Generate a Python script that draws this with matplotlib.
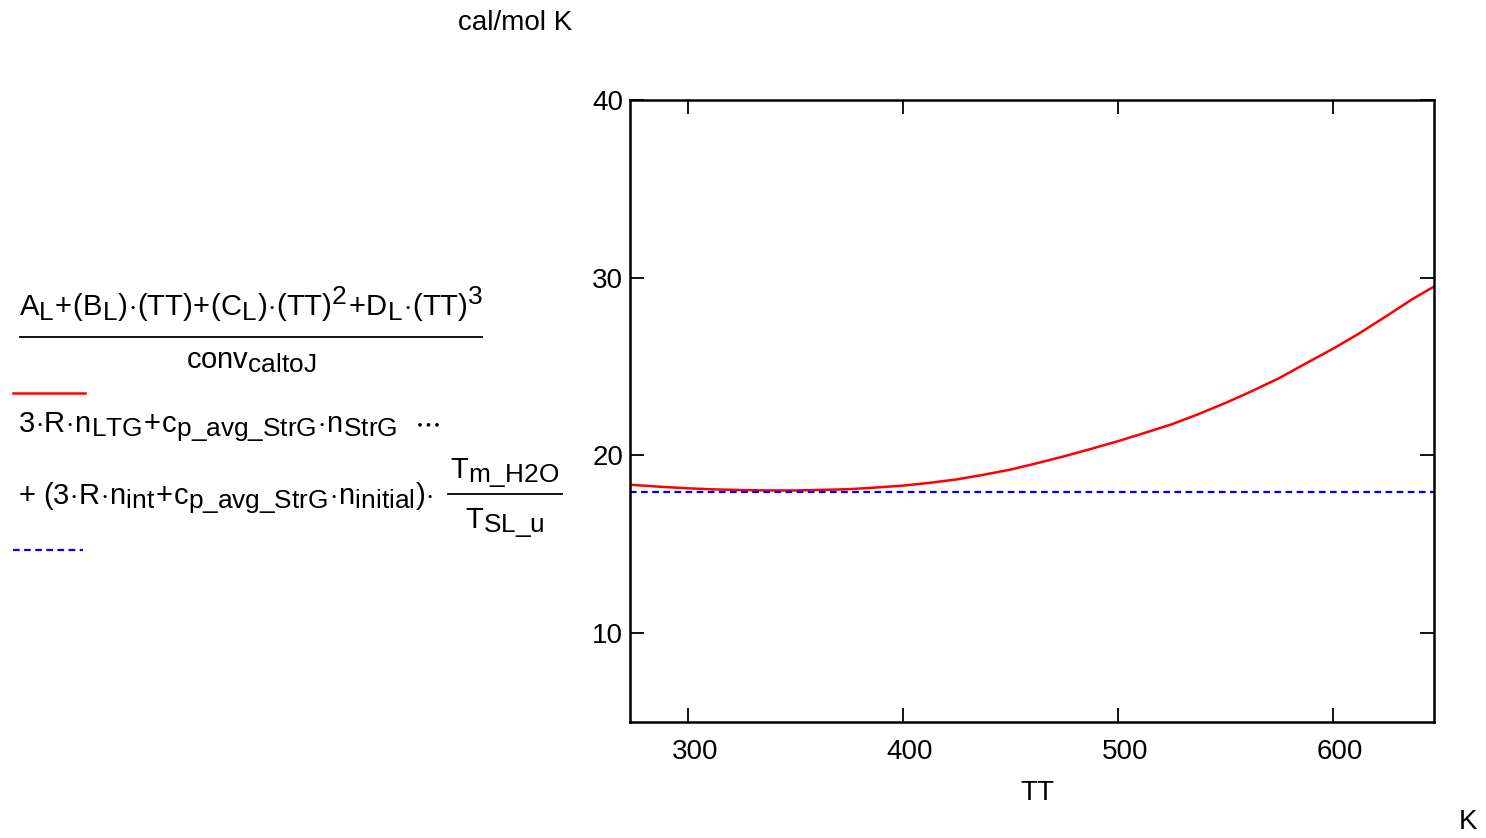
import numpy as np
import matplotlib
matplotlib.use("Agg")
import matplotlib.pyplot as plt
import matplotlib.transforms as mtransforms
from matplotlib.lines import Line2D
import matplotlib._mathtext as _mt

# mathcad draws sub/superscripts almost full size
_mt.SHRINK_FACTOR = 0.9

plt.rcParams['font.family'] = ['Liberation Sans', 'DejaVu Sans']
plt.rcParams['mathtext.fontset'] = 'custom'
plt.rcParams['mathtext.rm'] = 'Liberation Sans'
plt.rcParams['mathtext.it'] = 'Liberation Sans'
plt.rcParams['mathtext.bf'] = 'Liberation Sans'

# data
TT = [273.15, 287, 300, 312, 325, 337, 350, 362, 375, 387, 400, 412, 425, 437,
      450, 462, 475, 487, 500, 512, 525, 537, 550, 562, 575, 587, 600, 612,
      625, 637, 647]
cp_liquid = [18.35, 18.24, 18.15, 18.09, 18.05, 18.03, 18.03, 18.06, 18.1, 18.19,
             18.3, 18.45, 18.65, 18.9, 19.2, 19.55, 19.95, 20.35, 20.8, 21.25,
             21.75, 22.3, 22.95, 23.6, 24.35, 25.15, 26.0, 26.85, 27.85, 28.8,
             29.5]
cp_const = 17.97

xticks = [300, 400, 500, 600]
yticks = [10, 20, 30, 40]

fontsize = 20
eqsize = 21
W, H = 1486, 838

fig = plt.figure(figsize=(W / 100, H / 100), dpi=100)
ax = fig.add_axes([630 / W, 1 - 722 / H, (1434 - 630) / W, (722 - 100) / H])

ax.plot(TT, cp_liquid, color="red", linewidth=1.8)
ax.axhline(cp_const, color="blue", linewidth=1.6, linestyle=(0, (3, 2)))

ax.set_xlim(273.15, 647)
ax.set_ylim(5, 40)
ax.set_xticks(xticks)
ax.set_yticks(yticks)
ax.tick_params(direction="in", length=10, width=1.3, top=True, right=True,
               labelsize=fontsize, pad=12, colors="black")
for s in ax.spines.values():
    s.set_linewidth(1.8)

# mathcad puts the x labels a bit to the right of the ticks
off = mtransforms.ScaledTranslation(7 / 100, 0, fig.dpi_scale_trans)
for lab in ax.get_xticklabels():
    lab.set_transform(lab.get_transform() + off)
ax.tick_params(axis="y", pad=5)

def fx(px):
    return px / W

def fy(py):
    return 1 - py / H

fig.text(fx(515), fy(23), "cal/mol K", fontsize=fontsize, ha="center", va="center")
fig.text(fx(1037), fy(793), "TT", fontsize=fontsize, ha="center", va="center")
fig.text(fx(1468), fy(822), "K", fontsize=fontsize, ha="center", va="center")

# first trace expression
fig.text(fx(251), fy(316),
         r"$\mathrm{A_L\!+\!(B_L)\!\cdot\!(TT)\!+\!(C_L)\!\cdot\!(TT)^2\!+\!D_L\!\cdot\!(TT)^3}$",
         fontsize=eqsize, ha="center", va="baseline")
fig.add_artist(Line2D([fx(20), fx(482)], [fy(337), fy(337)], color="black", linewidth=1.3))
fig.text(fx(251), fy(368), r"$\mathrm{conv_{caltoJ}}$",
         fontsize=eqsize, ha="center", va="baseline")
fig.add_artist(Line2D([fx(13), fx(85)], [fy(393), fy(393)], color="red", linewidth=1.8))

# second trace expression
fig.text(fx(18), fy(432),
         r"$\mathrm{3\!\cdot\!R\!\cdot\!n_{LTG}\!+\!c_{p\_avg\_StrG}\!\cdot\!n_{StrG}}\ \ \cdots$",
         fontsize=eqsize, ha="left", va="baseline")
fig.text(fx(18), fy(504),
         r"$\mathrm{+\ (3\!\cdot\!R\!\cdot\!n_{int}\!+\!c_{p\_avg\_StrG}\!\cdot\!n_{initial})\!\cdot}$",
         fontsize=eqsize, ha="left", va="baseline")
fig.text(fx(505), fy(478), r"$\mathrm{T_{m\_H2O}}$",
         fontsize=eqsize, ha="center", va="baseline")
fig.add_artist(Line2D([fx(448), fx(562)], [fy(494), fy(494)], color="black", linewidth=1.3))
fig.text(fx(505), fy(528), r"$\mathrm{T_{SL\_u}}$",
         fontsize=eqsize, ha="center", va="baseline")
fig.add_artist(Line2D([fx(13), fx(83)], [fy(550), fy(550)], color="blue",
                      linewidth=1.6, linestyle=(0, (3, 2))))

fig.savefig("out.png", dpi=100)
